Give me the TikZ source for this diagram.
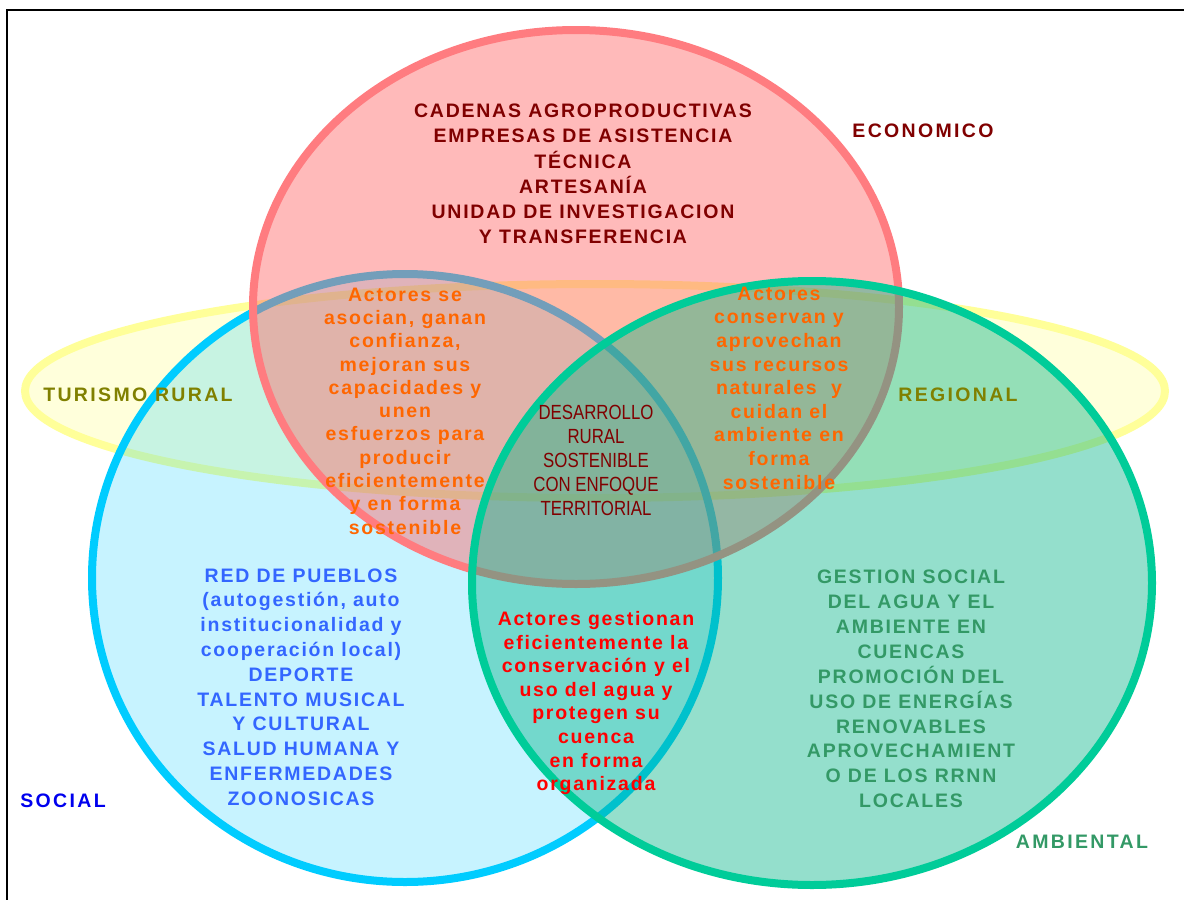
\documentclass[tikz,border=0pt]{standalone}
\usepackage{fontspec}
\setmainfont{Liberation Sans}
\newfontfamily\spacedf[LetterSpace=9]{Liberation Sans}
\newfontfamily\labelf[LetterSpace=12]{Liberation Sans}
\newfontfamily\narrowf[FakeStretch=0.82]{Liberation Sans}
\definecolor{ecoline}{HTML}{FF7C80}
\definecolor{ecofill}{HTML}{FF6666}
\definecolor{socline}{HTML}{00CCFF}
\definecolor{socfill}{HTML}{00CCFF}
\definecolor{ambline}{HTML}{00CC99}
\definecolor{ambfill}{HTML}{00B386}
\definecolor{yelline}{HTML}{FFFF99}
\definecolor{yelfill}{HTML}{FFFF99}
\definecolor{darkred}{HTML}{800000}
\definecolor{orangetxt}{HTML}{FF6600}
\definecolor{redtxt}{HTML}{FF0000}
\definecolor{bluetxt}{HTML}{3366FF}
\definecolor{greentxt}{HTML}{339966}
\definecolor{olivetxt}{HTML}{808000}
\definecolor{socialtxt}{HTML}{0000EE}
\begin{document}
\begin{tikzpicture}[x=1pt,y=-1pt,
  ring/.style={line width=8pt},
  txt/.style={align=center, inner sep=0pt},
  bold/.style={font={\spacedf\bfseries\fontsize{19.5}{#1}\selectfont}},
  lbl/.style={inner sep=0pt, font={\labelf\bfseries\fontsize{19.5}{22}\selectfont}},
  narrow/.style={font={\narrowf\fontsize{20.5}{24}\selectfont}}]
\useasboundingbox (0,0) rectangle (1184,900);
\fill[white] (0,0) rectangle (1184,900);
% frame
\draw[line width=2pt] (7,920) -- (7,10) -- (1200,10);
% yellow ellipse
\fill[yelfill, fill opacity=0.35] (595,391) ellipse [x radius=570pt, y radius=107pt];
\draw[ring, yelline] (595,391) ellipse [x radius=570pt, y radius=107pt];
% social
\fill[socfill, fill opacity=0.22] (405,578) ellipse [x radius=313pt, y radius=304pt];
\draw[ring, socline] (405,578) ellipse [x radius=313pt, y radius=304pt];
% economico
\fill[ecofill, fill opacity=0.45] (576,307) ellipse [x radius=323pt, y radius=277pt];
\draw[ring, ecoline] (576,307) ellipse [x radius=323pt, y radius=277pt];
% ambiental
\fill[ambfill, fill opacity=0.42] (812,583) ellipse [x radius=340pt, y radius=302pt];
\draw[ring, ambline] (812,583) ellipse [x radius=340pt, y radius=302pt];
% texts
\node[txt, bold=25.2, text=darkred] (eco) at (583,174) {CADENAS AGROPRODUCTIVAS\\EMPRESAS DE ASISTENCIA\\TÉCNICA\\ARTESANÍA\\UNIDAD DE INVESTIGACION\\Y TRANSFERENCIA};
\node[txt, bold=23.3, text=orangetxt] (ecosoc) at (405,411) {Actores se\\asocian, ganan\\confianza,\\mejoran sus\\capacidades y\\unen\\esfuerzos para\\producir\\eficientemente\\y en forma\\sostenible};
\node[txt, bold=23.6, text=orangetxt] (ecoamb) at (779,388) {Actores\\conservan y\\aprovechan\\sus recursos\\naturales \ y\\cuidan el\\ambiente en\\forma\\sostenible};
\node[txt, narrow, text=darkred] (center) at (596,460) {DESARROLLO\\RURAL\\SOSTENIBLE\\CON ENFOQUE\\TERRITORIAL};
\node[txt, bold=23.6, text=redtxt] (socamb) at (596,703) {Actores gestionan\\eficientemente la\\conservación y el\\uso del agua y\\protegen su\\cuenca\\en forma\\organizada};
\node[txt, bold=24.8, text=bluetxt] (soc) at (301,687) {RED DE PUEBLOS\\(autogestión, auto\\institucionalidad y\\cooperación local)\\DEPORTE\\TALENTO MUSICAL\\Y CULTURAL\\SALUD HUMANA Y\\ENFERMEDADES\\ZOONOSICAS};
\node[txt, bold=24.9, text=greentxt] (amb) at (911,689) {GESTION SOCIAL\\DEL AGUA Y EL\\AMBIENTE EN\\CUENCAS\\PROMOCIÓN DEL\\USO DE ENERGÍAS\\RENOVABLES\\APROVECHAMIENT\\O DE LOS RRNN\\LOCALES};
% labels
\node[lbl, text=darkred] (economico) at (923,131) {ECONOMICO};
\node[lbl, text=olivetxt] (turismo) at (138,395) {TURISMO RURAL};
\node[lbl, text=olivetxt] (regional) at (958,395) {REGIONAL};
\node[lbl, text=socialtxt] (social) at (63,801) {SOCIAL};
\node[lbl, text=greentxt] (ambiental) at (1082,842) {AMBIENTAL};
\end{tikzpicture}
\end{document}
